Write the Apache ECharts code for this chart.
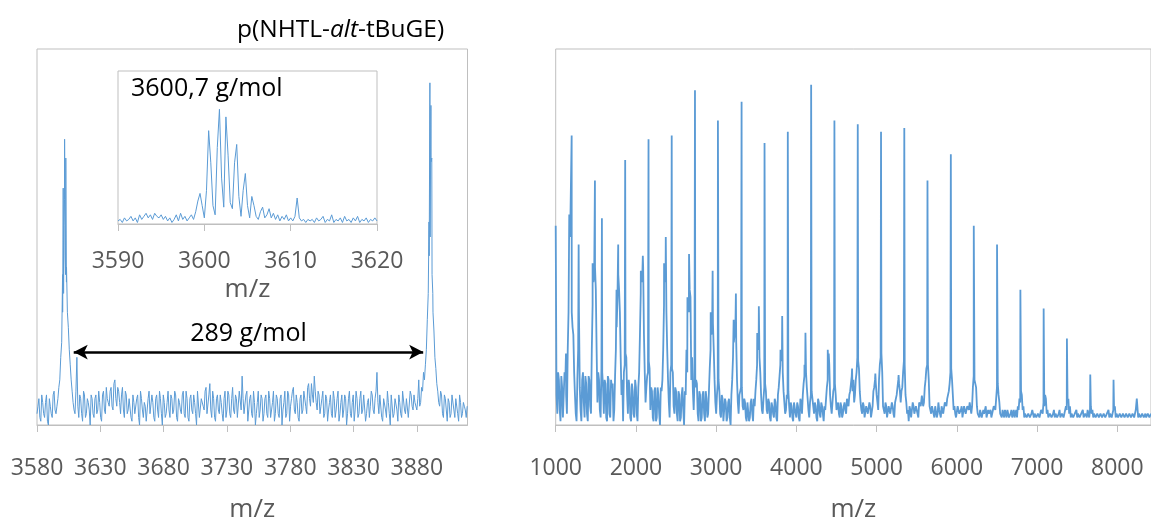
<!DOCTYPE html>
<html><head><meta charset="utf-8">
<script src="https://cdn.jsdelivr.net/npm/echarts@6/dist/echarts.min.js"></script>
<style>html,body{margin:0;padding:0;background:#fff}#c{width:1151px;height:528px}</style>
</head><body><div id="c"></div>
<script>
// ---- Left panel: 3580–3920 m/z, two interleaved sample sets (every 1.5 m/z, offset 0.75) ----
const leftStart = 3580, leftStep = 1.5, leftStartB = 3580.75;
const leftIntensity = [
3,7,1,6,2,8,0,5,2,9,
3,7,12,22,35,40,30,20,12,6,
3,18,2,7,1,8,3,6,0,7,
2,8,4,6,1,9,3,7,5,10,
4,12,5,9,3,10,2,8,4,7,
1,6,3,8,0,7,2,5,1,9,
3,6,1,8,2,7,0,6,3,9,
2,7,4,8,1,6,3,9,2,7,
1,8,3,6,0,9,2,7,4,10,
3,11,2,7,1,8,3,6,1,9,
4,8,2,10,3,7,2,9,13,3,
8,1,7,3,9,0,6,2,8,1,
7,3,9,2,6,1,8,3,7,0,
6,2,9,1,7,10,3,6,1,8,
4,9,3,11,5,8,13,6,9,3,
7,2,8,1,6,3,9,2,7,1,
6,2,8,0,7,3,6,1,9,2,
7,3,8,1,6,2,9,4,7,14,
3,8,1,7,2,6,0,8,3,7,
1,6,2,9,3,7,2,8,4,6,
4,12,6,9,12,20,35,50,40,25,
15,9,5,8,2,7,1,6,3,8,
2,7,1,6,3,5,2];
const leftIntensityB = [
5,2,8,3,6,1,7,3,8,4,
5,10,18,30,60,38,26,16,9,4,
9,5,8,3,9,2,7,4,8,3,
7,3,9,2,8,4,10,6,9,5,
11,7,10,6,8,4,9,3,7,2,
8,3,7,2,9,4,6,1,7,3,
8,2,7,4,9,3,8,2,6,4,
8,3,9,2,7,4,8,3,9,2,
7,4,8,3,9,2,7,5,9,3,
8,4,9,2,7,4,8,3,7,2,
9,3,7,4,8,2,9,4,7,3,
9,4,8,2,6,3,9,4,7,3,
8,2,7,4,9,3,7,2,8,4,
9,3,8,5,9,4,8,2,7,3,
9,5,10,7,11,6,9,4,8,5,
9,3,7,4,8,2,7,4,9,3,
8,4,7,3,9,2,8,4,7,3,
9,4,8,3,7,5,8,3,9,6,
8,2,7,4,9,3,8,2,7,4,
8,3,9,4,7,2,9,5,8,6,
7,5,10,14,16,28,45,70,30,18,
11,6,9,3,8,4,7,2,8,4,
7,3,8,2,6,4,5];
const leftPeakMz  = [3600.2,3600.7,3601.3,3601.8,3602.2,3602.75,3603.3,3604.6,3889.6,3890.3,3891.1,3891.8,3892.6];
const leftPeakInt = [40,63,53,76,45,71,42,30,54,91,85,71,35];
const leftTicks = [3580,3630,3680,3730,3780,3830,3880];

// ---- Inset: 3590–3620 m/z (every 0.25 m/z) ----
const insetStart = 3590, insetStep = 0.25;
const insetIntensity = [
2,3,1,4,2,3,5,2,4,1,6,3,5,7,4,6,3,7,5,4,
6,3,5,2,4,1,3,6,2,7,3,5,2,4,6,3,8,15,20,12,
4,22,61,40,12,6,50,75,30,11,70,45,14,10,40,52,18,5,22,33,
12,4,18,12,5,3,8,11,4,6,10,4,
7,3,6,2,5,3,6,2,
4,2,5,17,4,2,3,1,3,2,
3,1,4,2,3,5,1,3,2,6,
1,3,2,4,1,5,2,3,1,4,
2,5,1,3,2,4,1,3,2,4,2];
const insetTicks = [3590,3600,3610,3620];

// ---- Right panel: 1000–8420 m/z, two interleaved sample sets (every 20 m/z, offset 10) ----
const rightStart = 1000, rightStep = 20, rightStartB = 1010;
const rightIntensity = [
53,3,12,1,10,  2,12,3,30,50,  30,24,8,1,20,  10,1,14,2,11,  1,12,3,32,40,
36,6,12,2,14,  3,11,1,12,2,   10,1,13,26,40, 30,8,1,16,18,  3,10,1,9,2,
10,1,14,35,40, 24,6,13,17,4,  9,1,10,2,8,    0,9,20,38,30,  12,2,16,14,3,
9,1,8,2,10,    0,8,14,30,34,  18,4,10,11,1,  8,2,9,1,7,     3,15,24,27,12,
3,11,9,2,7,    1,6,2,7,0,     12,22,26,12,3, 9,10,4,6,1,    6,2,7,1,5,
12,20,18,8,3,  10,9,3,6,1,    5,2,6,1,10,    16,18,9,3,8,   9,2,5,1,6,
2,5,1,6,8,     13,14,7,2,8,   9,3,5,1,6,     2,5,1,4,10,    14,8,3,9,11,
4,6,2,5,3,     6,3,7,8,11,    9,6,12,18,15,  6,3,5,2,4,     3,5,2,9,12,
8,4,16,19,5,   3,5,2,4,3,     5,2,6,10,11,   6,10,17,8,3,   1,4,2,5,3,
4,2,6,7,5,     10,15,16,5,3,  4,2,5,3,4,     2,5,3,6,7,     9,14,12,4,3,
2,4,3,5,2,     4,3,5,6,3,     10,12,10,3,2,  4,2,3,5,2,     3,4,2,5,4,
10,8,3,2,3,    4,2,3,2,4,     3,2,4,5,7,     9,4,2,3,2,     3,2,4,2,3,
2,3,2,4,6,     8,3,2,3,2,     3,2,3,2,4,     2,3,2,5,6,     3,2,3,2,3,
2,3,2,3,2,     3,2,3,4,3,     2,3,2,3,2,     3,2,3,2,3,     2,3,3,4,2,
3,2,3,2,3,     2,3,2,3,2,     3,2,4,2,3,     2,3,2,2,3,
2,3];
const rightIntensityB = [
8,14,4,13,2,   14,8,20,52,50, 26,14,3,12,30, 4,12,6,13,3,   13,5,20,38,42,
20,14,4,15,10, 12,2,13,3,12,  11,4,20,34,36, 18,12,14,19,8, 12,2,11,3,12,
3,10,24,38,42, 14,10,14,15,10, 2,9,1,10,3,   10,12,32,40,20, 6,14,15,5,10,
3,9,1,8,4,     9,20,32,36,12, 9,12,12,3,9,   1,8,3,9,2,     9,20,26,20,6,
8,12,3,8,1,    7,1,6,2,8,     18,24,22,6,8,  10,5,7,2,6,    1,6,3,7,9,
16,22,14,4,7,  11,4,7,2,6,    3,7,2,8,13,    17,14,6,4,7,   5,6,2,6,3,
6,2,7,3,11,    15,10,4,6,9,   5,6,2,7,3,     6,3,5,7,12,    16,5,6,10,8,
5,3,6,2,5,     4,7,5,9,13,    12,8,14,17,9,  4,6,2,5,3,     6,2,5,10,11,
6,12,18,14,4,  6,2,5,3,6,     3,6,8,12,9,    9,14,16,6,4,   5,2,6,3,5,
3,6,5,8,6,     12,16,12,4,5,  3,5,2,6,4,     5,3,6,5,8,     11,15,8,5,2,
5,3,4,2,5,     3,5,4,6,5,     13,11,5,3,4,   2,4,3,2,4,     3,2,4,5,7,
11,6,3,4,2,    3,4,2,3,2,     4,3,2,4,6,     8,5,3,2,3,     2,3,4,3,2,
3,2,4,3,5,     7,4,2,3,2,     4,3,2,3,2,     3,2,4,4,7,     5,3,2,3,4,
3,2,3,4,2,     3,4,2,5,4,     3,2,3,2,3,     2,3,2,3,4,     3,2,4,5,3,
2,3,2,3,2,     3,2,3,2,3,     2,4,5,3,2,     3,2,3,2,3,
2];
const rightPeakMz  = [1128,1169,1199,1286,1460,1489,1576,1758,1779,1866,2061,2086,2157,2351,2372,2446,2642,2662,2736,2932,2956,3022,3218,3246,3317,3512,3532,3603,3802,3823,3893,4101,4113,4184,4391,4403,4474,4694,4765,4984,5055,5274,5345,5564,5634,5925,6211,6501,6792,7082,7372,7663,7953,8243];
const rightPeakInt = [19,56,77,48,43,65,55,36,48,70.5,41,45,76,43,50,77,34,45.5,89,30,41,81,28,35,86,24.5,31.6,75,20,29,78,16,24.5,90.5,20,19,81,15,80,13.7,78,13.3,79,7.8,65,72,53,48,36,31,23,13.4,12,7];
const rightTicks = [1000,2000,3000,4000,5000,6000,7000,8000];

// merge sampled sets and peak apexes into one m/z-sorted spectrum
function build(sets, pm, pi) {
  const pts = [];
  sets.forEach(([start, step, vals]) => vals.forEach((v, i) => pts.push([+(start + i * step).toFixed(3), v])));
  if (pm) pm.forEach((m, i) => pts.push([m, pi[i]]));
  pts.sort((a, b) => a[0] - b[0]);
  return pts;
}

const BLUE = '#5B9BD5', GRAYLINE = '#BFBFBF', LABEL = '#595959', FONT = 'Open Sans';

function xAx(gi, min, max, ticks, margin, nameGap) {
  return {
    type: 'value', gridIndex: gi, min: min, max: max,
    axisLine: { show: true, lineStyle: { color: GRAYLINE, width: 1 } },
    axisTick: { show: true, customValues: ticks, length: 7, lineStyle: { color: GRAYLINE } },
    axisLabel: { customValues: ticks, color: LABEL, fontSize: 23, fontFamily: FONT, margin: margin,
                 formatter: v => String(v) },
    splitLine: { show: false },
    name: 'm/z', nameLocation: 'middle', nameGap: nameGap,
    nameTextStyle: { color: LABEL, fontSize: 26, fontFamily: FONT }
  };
}
function yAx(gi) {
  return { type: 'value', gridIndex: gi, min: 0, max: 100, show: false };
}

const chart = echarts.init(document.getElementById('c'), null, { renderer: 'canvas' });
chart.setOption({
  animation: false,
  backgroundColor: '#fff',
  title: {
    text: '{a|p(NHTL-}{b|alt}{a|-tBuGE)}',
    left: 232, top: 13,
    textStyle: { fontWeight: 'normal', rich: {
      a: { fontSize: 24.5, fontFamily: FONT, color: '#000', fontWeight: 'normal' },
      b: { fontSize: 24.5, fontFamily: FONT, color: '#000', fontWeight: 'normal', fontStyle: 'italic' }
    } }
  },
  graphic: [{
    type: 'text', left: 131, top: 76,
    style: { text: '3600,7 g/mol', fontSize: 25, fontFamily: FONT, fill: '#000' }
  }],
  grid: [
    { left: 37, top: 49, width: 430.5, height: 389.5, show: true, borderColor: GRAYLINE, borderWidth: 1 },
    { left: 118, top: 71, width: 259, height: 153, show: true, borderColor: GRAYLINE, borderWidth: 1 },
    { left: 555.7, top: 49, width: 596.6, height: 389.3, show: true, borderColor: GRAYLINE, borderWidth: 1 }
  ],
  xAxis: [
    xAx(0, 3580, 3920, leftTicks, 32, 72),
    xAx(1, 3590, 3620, insetTicks, 26, 53),
    xAx(2, 1000, 8420, rightTicks, 32, 72)
  ],
  yAxis: [yAx(0), yAx(1), yAx(2)],
  series: [
    {
      type: 'line', xAxisIndex: 0, yAxisIndex: 0, showSymbol: false, sampling: 'none',
      data: build([[leftStart, leftStep, leftIntensity], [leftStartB, leftStep, leftIntensityB]], leftPeakMz, leftPeakInt),
      lineStyle: { color: BLUE, width: 1 }, itemStyle: { color: BLUE },
      markLine: {
        silent: true, symbol: ['arrow', 'arrow'], symbolSize: [11, 14],
        lineStyle: { color: '#000', width: 2.5, type: 'solid' },
        label: { show: true, position: 'middle', formatter: '289 g/mol', color: '#000', fontSize: 25, fontFamily: FONT, distance: 6 },
        data: [[{ coord: [3609, 19.4] }, { coord: [3885, 19.4] }]]
      }
    },
    {
      type: 'line', xAxisIndex: 1, yAxisIndex: 1, showSymbol: false, sampling: 'none',
      data: build([[insetStart, insetStep, insetIntensity]]),
      lineStyle: { color: BLUE, width: 1 }, itemStyle: { color: BLUE }
    },
    {
      type: 'line', xAxisIndex: 2, yAxisIndex: 2, showSymbol: false, sampling: 'none',
      data: build([[rightStart, rightStep, rightIntensity], [rightStartB, rightStep, rightIntensityB]], rightPeakMz, rightPeakInt),
      lineStyle: { color: BLUE, width: 1.8 }, itemStyle: { color: BLUE }
    }
  ]
});
</script></body></html>
